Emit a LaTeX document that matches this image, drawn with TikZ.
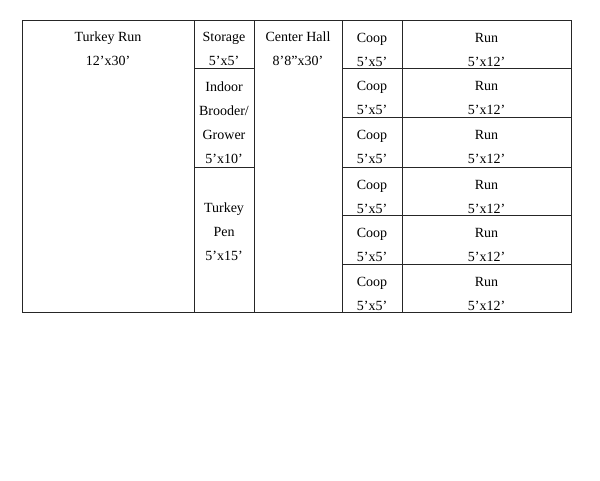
\documentclass[tikz,border=0pt]{standalone}
\usepackage{fontspec}
\setmainfont{Liberation Serif}
\begin{document}
\begin{tikzpicture}[x=1pt,y=-1pt,
  cellline/.style={draw=black!85,line width=0.9pt},
  lbl/.style={align=center,inner sep=0pt,font=\fontsize{14}{24}\selectfont}]
\useasboundingbox[fill=white] (0,0) rectangle (600,480);
% cells
\draw[cellline] (22,20) rectangle (194,312);
\draw[cellline] (194,20) rectangle (254,68);
\draw[cellline] (194,68) rectangle (254,167);
\draw[cellline] (194,167) rectangle (254,312);
\draw[cellline] (254,20) rectangle (342,312);
\foreach \t/\b in {20/68,68/117,117/167,167/215,215/264,264/312}{
  \draw[cellline] (342,\t) rectangle (402,\b);
  \draw[cellline] (402,\t) rectangle (571,\b);
}
% labels
\node[lbl] (trun) at (108,49) {Turkey Run\\12’x30’};
\node[lbl] (stor) at (224,49) {Storage\\5’x5’};
\node[lbl] (brood) at (224,122.5) {Indoor\\Brooder/\\Grower\\5’x10’};
\node[lbl] (pen) at (224,232) {Turkey\\Pen\\5’x15’};
\node[lbl] (hall) at (298,49) {Center Hall\\8’8”x30’};
\foreach \t [count=\i] in {20,68,117,167,215,264}{
  \node[lbl] (coop\i) at (372,\t+29.5) {Coop\\5’x5’};
  \node[lbl] (run\i) at (486.5,\t+29.5) {Run\\5’x12’};
}
\end{tikzpicture}
\end{document}
